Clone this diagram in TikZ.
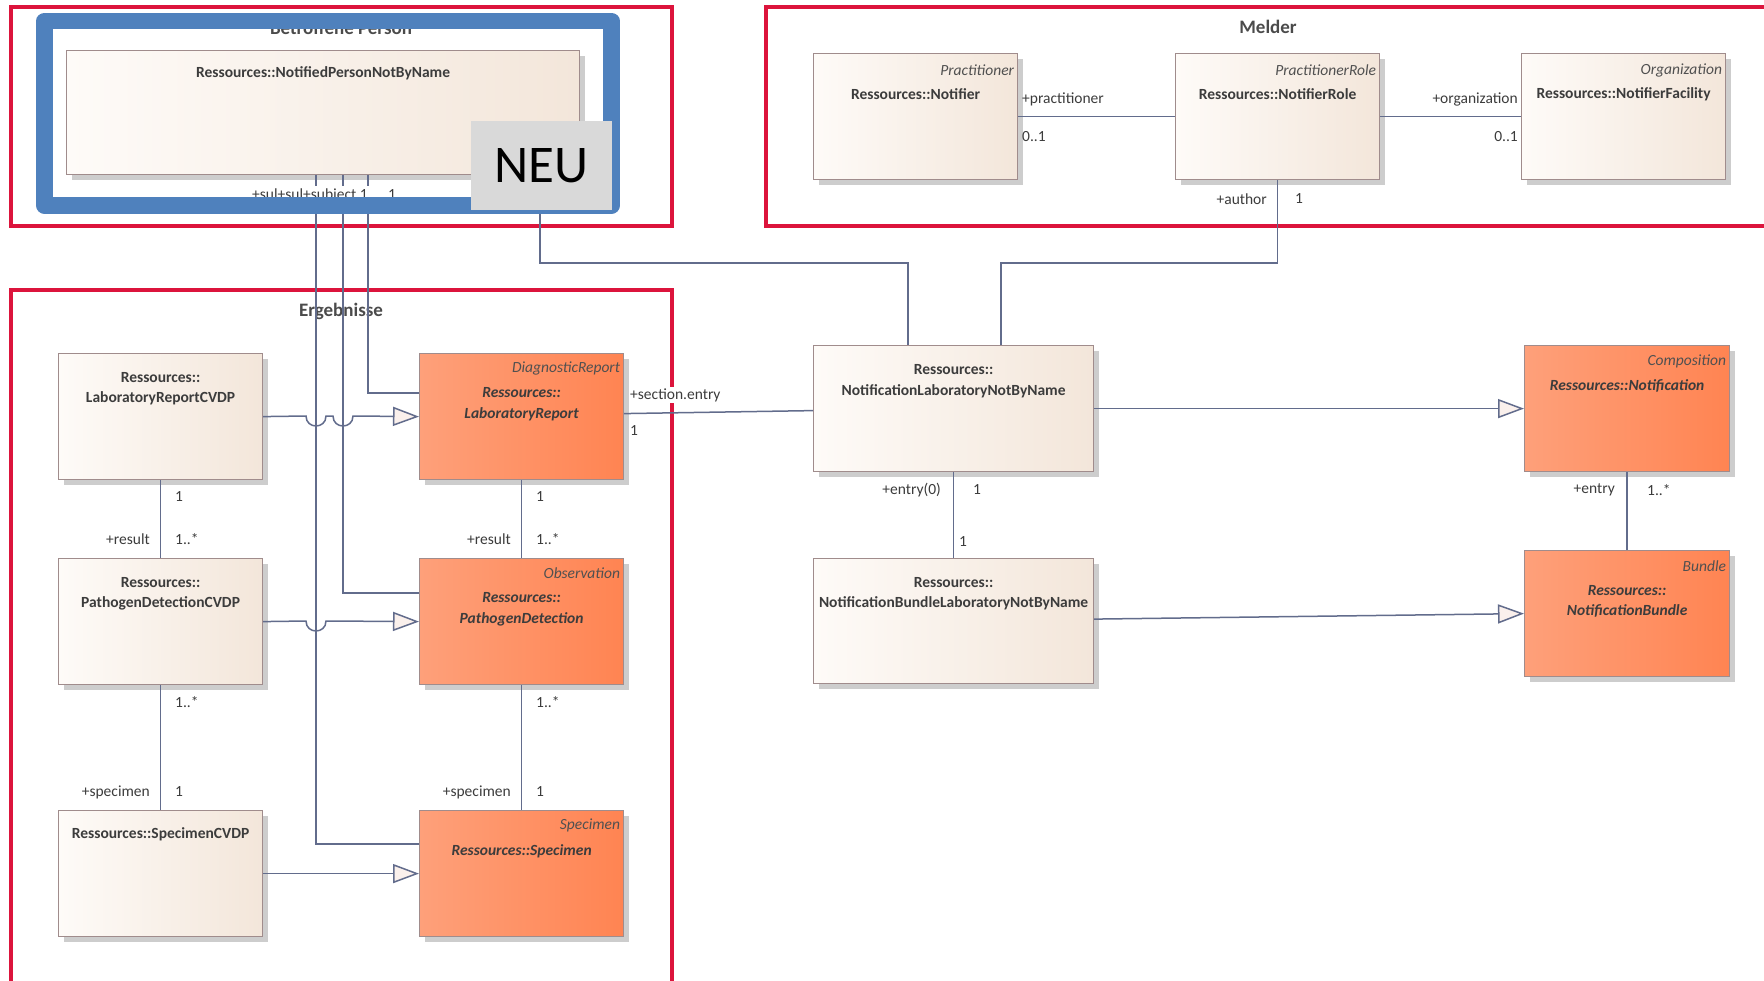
\documentclass[tikz,border=0pt]{standalone}
\usepackage{fontspec}
\setmainfont{Carlito}
\usetikzlibrary{arrows.meta,calc,shadows}
\definecolor{redf}{RGB}{220,20,60}
\definecolor{bluef}{RGB}{79,129,189}
\definecolor{beigeL}{RGB}{254,251,248}
\definecolor{beigeR}{RGB}{243,230,218}
\definecolor{orangeL}{RGB}{254,160,122}
\definecolor{orangeR}{RGB}{255,132,82}
\definecolor{bordc}{RGB}{160,140,140}
\definecolor{shadc}{RGB}{205,205,205}
\definecolor{linec}{RGB}{98,108,140}
\definecolor{txtc}{RGB}{60,60,60}
\definecolor{stc}{RGB}{80,80,80}
\definecolor{ttlc}{RGB}{75,75,75}
\definecolor{tipc}{RGB}{250,240,236}
\definecolor{neuc}{RGB}{217,217,217}
\newcommand\fsz{\fontsize{15.5}{20}\selectfont}
\begin{document}
\begin{tikzpicture}[x=1pt,y=-1pt,
  frame/.style={draw=redf, line width=4.5pt},
  cls/.style={draw=bordc, line width=1.2pt, anchor=north west, minimum width=204pt, minimum height=126pt, inner sep=0pt,
    drop shadow={shadow xshift=5pt, shadow yshift=-5pt, fill=shadc, opacity=1}},
  beige/.style={cls, left color=beigeL, right color=beigeR},
  orng/.style={cls, left color=orangeL, right color=orangeR},
  nm/.style={font=\fsz\bfseries, text=txtc, inner sep=0pt},
  nmi/.style={font=\fsz\bfseries\itshape, text=txtc, inner sep=0pt},
  st/.style={font=\fsz\itshape, text=stc, inner sep=0pt, anchor=east},
  lb/.style={font=\fsz, text=txtc, inner sep=0pt},
  ttl/.style={font=\fontsize{19}{23}\selectfont\bfseries, text=ttlc, anchor=base, inner sep=0pt},
  conn/.style={draw=linec, line width=1.5pt},
  gen/.style={conn, -{Triangle[length=26pt, width=19pt, fill=tipc]}}
]
\useasboundingbox (0,0) rectangle (1764,980);
\clip (0,0) rectangle (1764,980);
\fill[white] (0,0) rectangle (1764,980);

% frames
\draw[frame] (11,7) rectangle (672,226);
\draw[frame] (766,7) rectangle (1800,226);
\draw[frame] (11,290) rectangle (672,1010);

% titles
\node[ttl] (tbp) at (341,34) {Betroffene Person};
\node[ttl] (tme) at (1268,33) {Melder};
\node[ttl] (terg) at (341,316) {Ergebnisse};

% boxes
\node[beige, minimum width=513pt, minimum height=124pt] (np) at (66,50) {};
\node[nm] (npt) at ($(np.north)+(0,23)$) {Ressources::NotifiedPersonNotByName};

\node[beige] (no) at (813,53) {};
\node[st] (nos) at ($(no.north east)+(-4,17)$) {Practitioner};
\node[nm] (not) at ($(no.north)+(0,41)$) {Ressources::Notifier};

\node[beige] (nr) at (1175,53) {};
\node[st] (nrs) at ($(nr.north east)+(-4,17)$) {PractitionerRole};
\node[nm] (nrt) at ($(nr.north)+(0,41)$) {Ressources::NotifierRole};

\node[beige] (nf) at (1521,53) {};
\node[st] (nfs) at ($(nf.north east)+(-4,17)$) {Organization};
\node[nm] (nft) at ($(nf.north)+(0,41)$) {Ressources::NotifierFacility};

\node[beige] (lrc) at (58,353) {};
\node[nm] (lrc1) at ($(lrc.north)+(0,25)$) {Ressources::};
\node[nm] (lrc2) at ($(lrc.north)+(0,45)$) {LaboratoryReportCVDP};

\node[orng] (lr) at (419,353) {};
\node[st] (lrs) at ($(lr.north east)+(-4,15)$) {DiagnosticReport};
\node[nmi] (lr1) at ($(lr.north)+(0,40)$) {Ressources::};
\node[nmi] (lr2) at ($(lr.north)+(0,61)$) {LaboratoryReport};

\node[beige] (pdc) at (58,558) {};
\node[nm] (pdc1) at ($(pdc.north)+(0,25)$) {Ressources::};
\node[nm] (pdc2) at ($(pdc.north)+(0,45)$) {PathogenDetectionCVDP};

\node[orng] (pd) at (419,558) {};
\node[st] (pds) at ($(pd.north east)+(-4,15)$) {Observation};
\node[nmi] (pd1) at ($(pd.north)+(0,40)$) {Ressources::};
\node[nmi] (pd2) at ($(pd.north)+(0,61)$) {PathogenDetection};

\node[beige] (spc) at (58,810) {};
\node[nm] (spc1) at ($(spc.north)+(0,24)$) {Ressources::SpecimenCVDP};

\node[orng] (sp) at (419,810) {};
\node[st] (sps) at ($(sp.north east)+(-4,15)$) {Specimen};
\node[nmi] (sp1) at ($(sp.north)+(0,41)$) {Ressources::Specimen};

\node[beige, minimum width=280pt] (nl) at (813,345) {};
\node[nm] (nl1) at ($(nl.north)+(0,25)$) {Ressources::};
\node[nm] (nl2) at ($(nl.north)+(0,46)$) {NotificationLaboratoryNotByName};

\node[beige, minimum width=280pt, minimum height=125pt] (nbl) at (813,558) {};
\node[nm] (nbl1) at ($(nbl.north)+(0,25)$) {Ressources::};
\node[nm] (nbl2) at ($(nbl.north)+(0,45)$) {NotificationBundleLaboratoryNotByName};

\node[orng, minimum width=205pt] (n) at (1524,345) {};
\node[st] (ns) at ($(n.north east)+(-4,16)$) {Composition};
\node[nmi] (n1) at ($(n.north)+(0,41)$) {Ressources::Notification};

\node[orng, minimum width=205pt] (nb) at (1524,550) {};
\node[st] (nbs) at ($(nb.north east)+(-4,16)$) {Bundle};
\node[nmi] (nb1) at ($(nb.north)+(0,41)$) {Ressources::};
\node[nmi] (nb2) at ($(nb.north)+(0,61)$) {NotificationBundle};

% connectors from NotifiedPerson
\draw[conn] ($(np.south west)+(302,0)$) |- ($(lr.north west)+(0,40)$);
\draw[conn] ($(np.south west)+(277,0)$) |- ($(pd.north west)+(0,35)$);
\draw[conn] ($(np.south west)+(250,0)$) |- ($(sp.north west)+(0,34)$);
\draw[conn] ($(np.south west)+(474,0)$) |- ($(nl.north west)+(95,-82)$) -- ($(nl.north west)+(95,0)$);

% Melder connectors
\draw[conn] (no.east) -- (nr.west);
\draw[conn] (nr.east) -- (nf.west);
\draw[conn] (nr.south) |- ($(nl.north west)+(188,-82)$) -- ($(nl.north west)+(188,0)$);

% generalizations
\draw[gen] (lrc.east) -- (306,416) .. controls (306,429.3) and (326,429.3) .. (326,416)
  -- (333,416) .. controls (333,429.3) and (353,429.3) .. (353,416) -- (lr.west);
\draw[gen] (pdc.east) -- (306,621) .. controls (306,634.3) and (326,634.3) .. (326,621) -- (pd.west);
\draw[gen] (spc.east) -- (sp.west);
\draw[gen] (nl.east) -- (n.west);
\draw[gen] ($(nbl.east)+(0,-2)$) -- (nb.west);

% associations
\draw[conn] (lrc.south) -- (pdc.north);
\draw[conn] (pdc.south) -- (spc.north);
\draw[conn] (lr.south) -- (pd.north);
\draw[conn] (pd.south) -- (sp.north);
\draw[conn] ($(lr.east)+(0,-3)$) -- ($(nl.west)+(0,2)$);
\draw[conn] (nl.south) -- (nbl.north);
\draw[conn] (n.south) -- (nb.north);

% labels
\node[lb, anchor=west] (l1) at (1022,99) {+practitioner};
\node[lb, anchor=west] (l2) at (1022,137) {0..1};
\node[lb, anchor=east] (l3) at (1518,99) {+organization};
\node[lb, anchor=east] (l4) at (1518,137) {0..1};
\node[lb, anchor=east] (l5) at (1267,199) {+author};
\node[lb, anchor=west] (l6) at (1295,199) {1};

\node[lb, anchor=west] (e1) at (175,497) {1};
\node[lb, anchor=east] (e2) at (150,539) {+result};
\node[lb, anchor=west] (e3) at (175,539) {1..*};
\node[lb, anchor=west] (e4) at (536,497) {1};
\node[lb, anchor=east] (e5) at (511,539) {+result};
\node[lb, anchor=west] (e6) at (536,539) {1..*};
\node[lb, anchor=west] (e7) at (175,702) {1..*};
\node[lb, anchor=east] (e8) at (150,792) {+specimen};
\node[lb, anchor=west] (e9) at (175,792) {1};
\node[lb, anchor=west] (e10) at (536,702) {1..*};
\node[lb, anchor=east] (e11) at (511,792) {+specimen};
\node[lb, anchor=west] (e12) at (536,792) {1};

\node[lb, anchor=west, fill=white, inner sep=1pt] (s1) at (629,395) {+section.entry};
\node[lb, anchor=west] (s2) at (630,431) {1};
\node[lb, anchor=east] (s3) at (941,490) {+entry(0)};
\node[lb, anchor=west] (s4) at (973,490) {1};
\node[lb, anchor=west] (s5) at (959,542) {1};
\node[lb, anchor=east] (s6) at (1615,490) {+entry};
\node[lb, anchor=west] (s7) at (1647,490) {1..*};

\node[lb, anchor=west, fill=white, inner sep=2pt] (b1) at (250,195) {+sul+sul+subject 1};
\node[lb, anchor=west, fill=white, inner sep=2pt] (b2) at (386,195) {1};

% blue frame and NEU
\draw[bluef, line width=16.5pt, line join=round] (44.5,21) rectangle (611.5,205.5);
\node[fill=neuc, anchor=north west, minimum width=141pt, minimum height=89pt, inner sep=0pt,
  font=\fontsize{53}{63}\selectfont] (neu) at (471,121) {NEU};
\end{tikzpicture}
\end{document}
